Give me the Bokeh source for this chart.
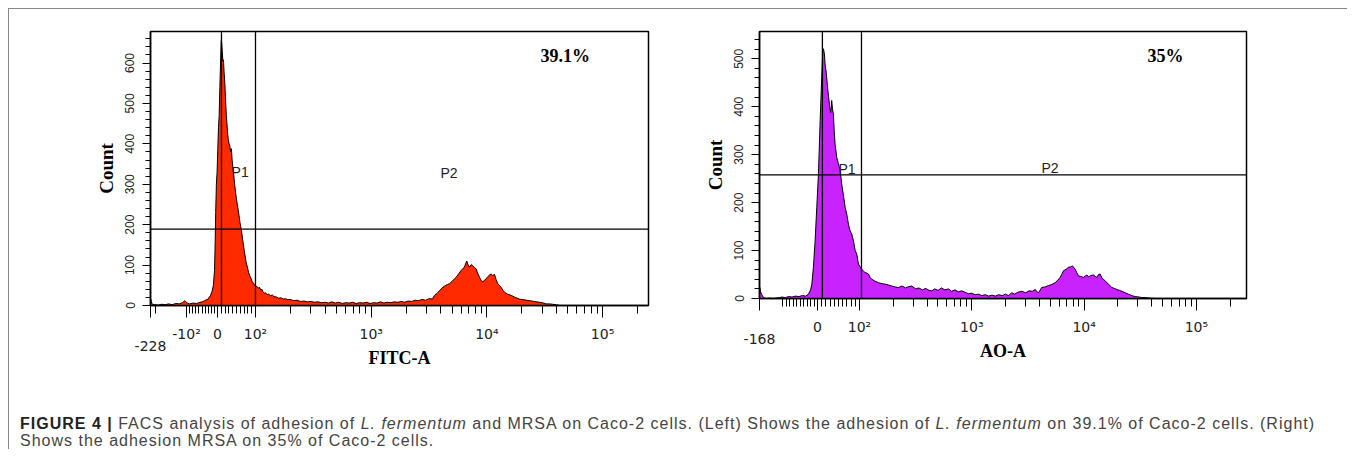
from bokeh.plotting import figure
from bokeh.models import FixedTicker, Span, Label, Div
from bokeh.layouts import row, column
from bokeh.embed import file_html
from bokeh.resources import INLINE
import math

# ---------------- data (x in display decades of the biexponential axis) -------------
fitc_pos = [1.0925, 1.095, 1.100, 1.108, 1.13, 1.16, 1.19, 1.22, 1.25, 1.28, 1.31, 1.34, 1.37, 1.39, 1.41,
            1.43, 1.46, 1.49, 1.51, 1.54, 1.56, 1.59, 1.61, 1.625, 1.636, 1.646, 1.651, 1.656, 1.662,
            1.668, 1.674, 1.680, 1.686, 1.692, 1.698, 1.704, 1.708, 1.713, 1.718, 1.723, 1.728, 1.735,
            1.742, 1.748, 1.752, 1.758, 1.765, 1.772, 1.778, 1.785, 1.792, 1.798, 1.805, 1.812, 1.820,
            1.828, 1.835, 1.843, 1.850, 1.858, 1.866, 1.873, 1.880, 1.888, 1.896, 1.904, 1.912, 1.920,
            1.930, 1.940, 1.950, 1.960, 1.970, 1.980, 1.990, 2.000, 2.012, 2.025, 2.035, 2.045, 2.055,
            2.065, 2.075, 2.085, 2.100, 2.115, 2.130, 2.145, 2.160, 2.180, 2.200, 2.220, 2.240, 2.260,
            2.280, 2.300, 2.330, 2.360, 2.390, 2.420, 2.450, 2.480, 2.510, 2.540, 2.570, 2.600, 2.630,
            2.660, 2.690, 2.720, 2.750, 2.780, 2.810, 2.840, 2.870, 2.900, 2.930, 2.960, 2.990, 3.020,
            3.050, 3.080, 3.110, 3.140, 3.170, 3.200, 3.230, 3.260, 3.290, 3.320, 3.350, 3.380, 3.410,
            3.440, 3.470, 3.500, 3.530, 3.547, 3.570, 3.595, 3.619, 3.640, 3.660, 3.677, 3.700, 3.720,
            3.735, 3.755, 3.778, 3.795, 3.806, 3.816, 3.826, 3.838, 3.850, 3.864, 3.878, 3.892, 3.907,
            3.920, 3.936, 3.950, 3.965, 3.980, 3.994, 4.010, 4.025, 4.037, 4.050, 4.066, 4.080, 4.094,
            4.110, 4.124, 4.138, 4.152, 4.180, 4.210, 4.245, 4.280, 4.320, 4.370, 4.410, 4.455, 4.490,
            4.512, 4.540, 4.570, 4.600, 4.630, 5.397]
fitc_cnt = [0, 15, 9, 3, 2, 1, 3, 2, 4, 2, 5, 4, 7, 12, 6,
            4, 6, 5, 7, 9, 12, 16, 24, 35, 50, 87, 150, 230, 300,
            330, 385, 440, 470, 540, 600, 655, 650, 628, 605, 608, 580, 550,
            505, 470, 455, 430, 410, 400, 395, 380, 388, 360, 340, 322, 300,
            280, 265, 250, 238, 222, 205, 195, 183, 165, 150, 133, 120, 105,
            95, 82, 74, 68, 60, 56, 52, 48, 47, 43, 45, 38, 40,
            34, 30, 32, 27, 28, 24, 26, 22, 21, 18, 19, 16, 17,
            14, 15, 12, 13, 10, 11, 9, 10, 8, 9, 7, 8, 6,
            9, 6, 8, 5, 7, 6, 8, 5, 7, 6, 8, 5, 7,
            6, 9, 6, 8, 7, 9, 8, 10, 8, 11, 10, 13, 12,
            15, 13, 17, 16, 25, 30, 38, 45, 49, 52, 54, 60, 66,
            70, 78, 87, 92, 95, 103, 110, 100, 95, 101, 99, 94, 91,
            80, 70, 62, 58, 63, 66, 72, 76, 78, 74, 77, 64, 54,
            49, 45, 38, 33, 28, 25, 20, 16, 14, 12, 10, 8, 6,
            4, 4, 3, 2, 0, 0]

ao_pos = [1.110, 1.112, 1.120, 1.130, 1.145, 1.17, 1.20, 1.23, 1.26, 1.29, 1.31, 1.34, 1.37, 1.40, 1.43,
          1.46, 1.49, 1.52, 1.546, 1.565, 1.576, 1.590, 1.605, 1.620, 1.635, 1.650, 1.664, 1.673, 1.679,
          1.688, 1.694, 1.705, 1.714, 1.724, 1.735, 1.744, 1.753, 1.760, 1.768, 1.775, 1.783, 1.798,
          1.813, 1.828, 1.842, 1.858, 1.873, 1.887, 1.902, 1.917, 1.932, 1.947, 1.962, 1.976, 1.991,
          2.006, 2.021, 2.036, 2.051, 2.066, 2.080, 2.095, 2.110, 2.140, 2.169, 2.200, 2.229, 2.260,
          2.288, 2.320, 2.347, 2.380, 2.410, 2.440, 2.466, 2.500, 2.530, 2.560, 2.590, 2.620, 2.644,
          2.670, 2.700, 2.730, 2.760, 2.793, 2.820, 2.850, 2.880, 2.910, 2.941, 2.971, 3.000, 3.030,
          3.060, 3.090, 3.120, 3.149, 3.180, 3.210, 3.240, 3.270, 3.300, 3.327, 3.356, 3.380, 3.410,
          3.445, 3.480, 3.510, 3.540, 3.565, 3.580, 3.594, 3.610, 3.623, 3.650, 3.683, 3.710, 3.742,
          3.765, 3.787, 3.800, 3.817, 3.840, 3.861, 3.880, 3.897, 3.910, 3.921, 3.935, 3.950, 3.970,
          3.995, 4.010, 4.025, 4.039, 4.060, 4.084, 4.100, 4.113, 4.128, 4.143, 4.160, 4.173, 4.195,
          4.217, 4.247, 4.270, 4.291, 4.315, 4.336, 4.365, 4.395, 4.425, 4.455, 4.490, 4.514, 4.545,
          4.573, 4.633, 5.446]
ao_cnt = [0, 23, 14, 8, 2, 0, 1, 0, 1, 2, 3, 2, 4, 3, 5,
          4, 6, 5, 9, 18, 30, 65, 120, 190, 260, 371, 461, 517, 521,
          510, 489, 470, 446, 423, 400, 388, 413, 395, 385, 350, 322, 294,
          281, 267, 239, 214, 190, 176, 155, 141, 134, 120, 100, 93, 72,
          66, 61, 57, 54, 53, 51, 44, 40, 36, 33, 31, 30, 28,
          26, 24, 23, 26, 22, 25, 26, 20, 22, 18, 21, 17, 16,
          20, 17, 22, 18, 20, 15, 18, 14, 16, 13, 10, 11, 8,
          9, 6, 8, 5, 7, 5, 8, 6, 9, 6, 12, 9, 13,
          15, 12, 16, 15, 19, 14, 12, 18, 23, 24, 27, 29, 33,
          38, 44, 50, 58, 61, 65, 66, 68, 64, 61, 54, 47, 46,
          44, 47, 49, 45, 48, 49, 46, 44, 50, 51, 42, 40, 35,
          30, 23, 21, 19, 17, 15, 12, 9, 6, 4, 3, 2, 2,
          1, 0, 0]

# axis definition (biexponential: linear around zero, log above 10^2)
fitc_axis = dict(start=1.0925, end=5.397, zero=1.672, neg100=1.404, ymax=678,
                 yticks=[0, 100, 200, 300, 400, 500, 600], low_label="-228",
                 neg_labelled=True, gate_x=[1.706, 2.0], gate_y=189)
ao_axis = dict(start=1.110, end=5.446, zero=1.626, neg100=1.319, ymax=557,
               yticks=[0, 100, 200, 300, 400, 500], low_label="-168",
               neg_labelled=False, gate_x=[1.670, 2.018], gate_y=258)

lin_minor_fitc = [-200, -90, -80, -70, -60, -50, -40, -30, -20, -10, 10, 20, 30, 40, 50, 60, 70, 80, 90]
lin_minor_ao = [-100, -90, -80, -70, -60, -50, -40, -30, -20, -10, 10, 20, 30, 40, 50, 60, 70, 80, 90]

SANS = "Liberation Sans"
TICKF = "DejaVu Sans"
SERIF = "Liberation Serif"
TOP_B = 22
BOTTOM_B = 88


def lin_disp(v, ax):
    if v >= 0:
        return ax["zero"] + v * (2 - ax["zero"]) / 100.0
    return ax["zero"] + v * (ax["zero"] - ax["neg100"]) / 100.0


def make_panel(pos, cnt, ax, fill, xlabel, pct, pct_pos, p1_pos, p2_pos, lin_minor,
               width, frame_h, left_b, right_b):
    p = figure(width=width, height=TOP_B + frame_h + BOTTOM_B, x_range=(ax["start"], ax["end"]),
               y_range=(0, ax["ymax"]), output_backend="svg", toolbar_location=None,
               min_border_left=left_b, min_border_right=right_b, min_border_top=TOP_B,
               min_border_bottom=BOTTOM_B, align="start")
    p.grid.visible = False
    p.outline_line_color = "black"
    p.outline_line_width = 1.5
    p.background_fill_color = "white"
    p.border_fill_color = "white"

    p.varea(x=pos, y1=[0] * len(pos), y2=cnt, fill_color=fill)
    p.line(x=pos, y=cnt, line_color="black", line_width=1)

    # x ticks
    major = [ax["start"]]
    overrides = {ax["start"]: "\n" + ax["low_label"]}
    if ax["neg_labelled"]:
        major.append(ax["neg100"])
        overrides[ax["neg100"]] = "-10\u00b2"
    major += [ax["zero"], 2.0, 3.0, 4.0, 5.0]
    overrides.update({ax["zero"]: "0", 2.0: "10\u00b2", 3.0: "10\u00b3",
                      4.0: "10\u2074", 5.0: "10\u2075"})
    minor = [lin_disp(v, ax) for v in lin_minor]
    for e in (2, 3, 4):
        minor += [math.log10(k * 10 ** e) for k in range(2, 10)]
    minor.append(math.log10(2e5))
    xa = p.xaxis[0]
    xa.ticker = FixedTicker(ticks=major, minor_ticks=minor)
    xa.major_label_overrides = overrides
    xa.major_tick_out = 12
    xa.major_tick_in = 0
    xa.minor_tick_out = 8
    xa.minor_tick_in = 0
    xa.axis_line_width = 1.5
    xa.major_label_text_font = TICKF
    xa.major_label_text_font_size = "14px"
    xa.major_label_text_line_height = 0.75
    xa.major_label_text_color = "#222222"
    xa.major_label_standoff = 8
    xa.axis_label = xlabel
    xa.axis_label_text_font = SERIF
    xa.axis_label_text_font_style = "bold"
    xa.axis_label_text_font_size = "18px"
    xa.axis_label_text_color = "black"
    xa.axis_label_standoff = -9

    ya = p.yaxis[0]
    ya.ticker = FixedTicker(ticks=ax["yticks"], minor_ticks=list(range(0, int(ax["ymax"]), 20)))
    ya.major_label_orientation = "vertical"
    ya.major_tick_out = 8
    ya.major_tick_in = 0
    ya.minor_tick_out = 5
    ya.minor_tick_in = 0
    ya.axis_line_width = 1.5
    ya.major_label_text_font = SANS
    ya.major_label_text_font_size = "12px"
    ya.major_label_text_color = "#222222"
    ya.major_label_standoff = 8
    ya.axis_label = "Count"
    ya.axis_label_text_font = SERIF
    ya.axis_label_text_font_style = "bold"
    ya.axis_label_text_font_size = "19px"
    ya.axis_label_text_color = "black"
    ya.axis_label_standoff = 6

    # gates
    for gx in ax["gate_x"]:
        p.add_layout(Span(location=gx, dimension="height", line_color="black", line_width=1.3))
    p.add_layout(Span(location=ax["gate_y"], dimension="width", line_color="black", line_width=1.3))

    p.add_layout(Label(x=p1_pos[0], y=p1_pos[1], text="P1", text_font=SANS, text_font_size="14px",
                       text_color="#222222", text_baseline="middle", text_align="left"))
    p.add_layout(Label(x=p2_pos[0], y=p2_pos[1], text="P2", text_font=SANS, text_font_size="14px",
                       text_color="#222222", text_baseline="middle", text_align="left"))
    p.add_layout(Label(x=pct_pos[0], y=pct_pos[1], text=pct, text_font=SERIF, text_font_size="18px",
                       text_font_style="bold", text_color="black", text_baseline="middle",
                       text_align="left"))
    return p


p1 = make_panel(fitc_pos, fitc_cnt, fitc_axis, "#FF2A00", "FITC-A", "39.1%", (4.463, 618),
                (1.793, 330), (3.599, 327), lin_minor_fitc,
                width=680, frame_h=274, left_b=141, right_b=41)
p2 = make_panel(ao_pos, ao_cnt, ao_axis, "#C822FF", "AO-A", "35%", (4.565, 506),
                (1.813, 270), (3.621, 272), lin_minor_ao,
                width=658, frame_h=267, left_b=70, right_b=101)

caption_html = ('<div style="font-family:\'Liberation Sans\', Arial, sans-serif; font-size:16px; '
                'line-height:17px; letter-spacing:1px; color:#444444; white-space:nowrap;">'
                '<span style="font-weight:bold;color:#222">FIGURE 4 |</span> FACS analysis of adhesion of '
                '<i>L. fermentum</i> and MRSA on Caco-2 cells. (Left) Shows the adhesion of '
                '<i>L. fermentum</i> on 39.1% of Caco-2 cells. (Right)<br>'
                'Shows the adhesion MRSA on 35% of Caco-2 cells.</div>')
caption = Div(text=caption_html, width=1338, height=56, margin=(0, 0, 0, 0),
              styles={"padding-top": "22px", "padding-left": "11px", "box-sizing": "border-box"})

layout = column(row(p1, p2), caption, margin=(8, 0, 0, 8),
                styles={"border-top": "1px solid #888", "border-left": "1px solid #888"})

open("out.html", "w").write(file_html(layout, INLINE))
